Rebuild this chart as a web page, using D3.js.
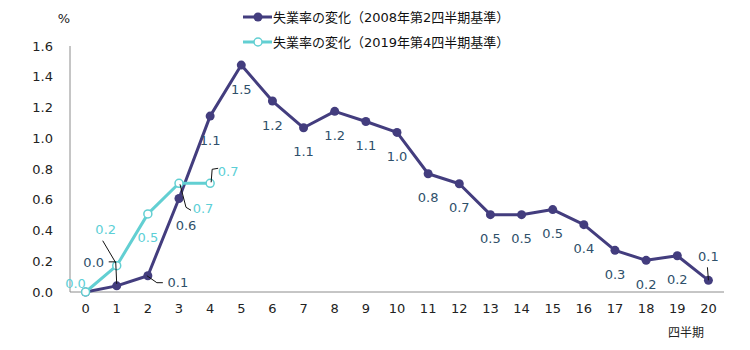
<!DOCTYPE html>
<html><head><meta charset="utf-8">
<script src="https://cdn.jsdelivr.net/npm/d3@7"></script>
<style>
body{margin:0;background:#fff;}
text{font-family:"DejaVu Sans","Noto Sans CJK JP",sans-serif;}
</style></head>
<body>
<svg id="c" width="750" height="350"></svg>
<script>
const quarters = d3.range(0, 21).map(String);
const series2008 = [0, 0.04, 0.106, 0.608, 1.144, 1.476, 1.242, 1.068, 1.175, 1.109, 1.038, 0.769, 0.704, 0.503, 0.503, 0.536, 0.438, 0.271, 0.206, 0.236, 0.076];
const series2019 = [0, 0.171, 0.508, 0.707, 0.707];
const labels2008 = ["0.0","0.0","0.1","0.6","1.1","1.5","1.2","1.1","1.2","1.1","1.0","0.8","0.7","0.5","0.5","0.5","0.4","0.3","0.2","0.2","0.1"];
const labels2019 = ["0.0","0.2","0.5","0.7","0.7"];
const yTicks = [0, 0.2, 0.4, 0.6, 0.8, 1.0, 1.2, 1.4, 1.6];
const seriesNames = ["失業率の変化（2008年第2四半期基準）", "失業率の変化（2019年第4四半期基準）"];
const yUnit = "%";
const xTitle = "四半期";

// label placement (pixel offsets from point) and leader lines
const off2008 = {1:[-23,-23], 2:[30,7], 3:[7,27], 20:[0,-24]};
const lead2008 = {1:[[-8,-24],[-1,-24],[0,-2]], 2:[[-1,0],[9,7],[15,7]], 20:[[-1,-13],[0,0]]};
const off2019 = {0:[-10,-9], 1:[-11,-36], 3:[24,25], 4:[18,-12]};
const lead2019 = {1:[[-14,-25],[-1,-3]], 3:[[1,1],[7,24],[12,27]], 4:[[1,-1],[2,-14],[8,-15]]};

const svg = d3.select("#c");
const x = d3.scaleBand().domain(quarters).range([70, 724]);
const cx = d => x(d) + x.bandwidth() / 2;
const y = d3.scaleLinear().domain([0, 1.6]).range([292, 46]);

const darkC = "#433d7e", lightC = "#62cfd2", darkLbl = "#2f506a", lightLbl = "#5ccfd6";
const fs = 13;

// axes
svg.append("line").attr("x1",70).attr("x2",70).attr("y1",y(1.6)).attr("y2",y(0)).attr("stroke","#8c8c8c");
svg.append("line").attr("x1",70).attr("x2",724).attr("y1",y(0)).attr("y2",y(0)).attr("stroke","#8c8c8c");
svg.selectAll(".yt").data(yTicks).join("text").attr("x",53).attr("y",d=>y(d)).attr("dy","0.35em")
  .attr("text-anchor","end").attr("font-size",fs).attr("fill","#222").text(d=>d3.format(".1f")(d));
svg.selectAll(".xt").data(quarters).join("text").attr("x",d=>cx(d)).attr("y",308).attr("dy","0.35em")
  .attr("text-anchor","middle").attr("font-size",fs).attr("fill","#222").text(d=>d);
svg.append("text").attr("x",64).attr("y",18).attr("dy","0.35em").attr("text-anchor","middle").attr("font-size",fs).attr("fill","#222").text(yUnit);
svg.append("text").attr("x",686).attr("y",333).attr("dy","0.35em").attr("text-anchor","middle").attr("font-size",12).attr("fill","#222")
  .style("font-family","'Noto Sans CJK JP'").text(xTitle);

const line = d3.line().x((d,i)=>cx(quarters[i])).y(d=>y(d));

// dark series
svg.append("path").datum(series2008).attr("d",line).attr("fill","none").attr("stroke",darkC).attr("stroke-width",3).attr("stroke-linejoin","round");
svg.selectAll(".dm").data(series2008).join("circle").attr("cx",(d,i)=>cx(quarters[i])).attr("cy",d=>y(d)).attr("r",4.5).attr("fill",darkC);

// light series
svg.append("path").datum(series2019).attr("d",line).attr("fill","none").attr("stroke",lightC).attr("stroke-width",3).attr("stroke-linejoin","round");
svg.selectAll(".lm").data(series2019).join("circle").attr("cx",(d,i)=>cx(quarters[i])).attr("cy",d=>y(d)).attr("r",4).attr("fill","#fff").attr("stroke",lightC).attr("stroke-width",1.5);

// leader lines
function leaders(data, leads){
  Object.entries(leads).forEach(([i,pts])=>{
    const px = cx(quarters[+i]), py = y(data[+i]);
    svg.append("path").attr("d", d3.line()(pts.map(p=>[px+p[0], py+p[1]]))).attr("fill","none").attr("stroke","#111").attr("stroke-width",1);
  });
}
leaders(series2008, lead2008);
leaders(series2019, lead2019);

// labels
series2008.forEach((d,i)=>{
  if(i===0) return;
  const o = off2008[i] || [0,24];
  svg.append("text").attr("x",cx(quarters[i])+o[0]).attr("y",y(d)+o[1]).attr("dy","0.35em")
    .attr("text-anchor","middle").attr("font-size",fs).attr("fill",darkLbl).text(labels2008[i]);
});
series2019.forEach((d,i)=>{
  const o = off2019[i] || [0,24];
  svg.append("text").attr("x",cx(quarters[i])+o[0]).attr("y",y(d)+o[1]).attr("dy","0.35em")
    .attr("text-anchor","middle").attr("font-size",fs).attr("fill",lightLbl).text(labels2019[i]);
});

// legend
[[darkC,true,17],[lightC,false,42]].forEach(([c,filled,ly],k)=>{
  svg.append("line").attr("x1",243).attr("x2",272).attr("y1",ly).attr("y2",ly).attr("stroke",c).attr("stroke-width",3);
  svg.append("circle").attr("cx",258).attr("cy",ly).attr("r",filled?4.5:4).attr("fill",filled?c:"#fff").attr("stroke",c).attr("stroke-width",filled?0:1.5);
  svg.append("text").attr("x",273).attr("y",ly).attr("dy","0.35em").attr("font-size",13).attr("fill","#111").text(seriesNames[k]);
});
</script>
</body></html>
